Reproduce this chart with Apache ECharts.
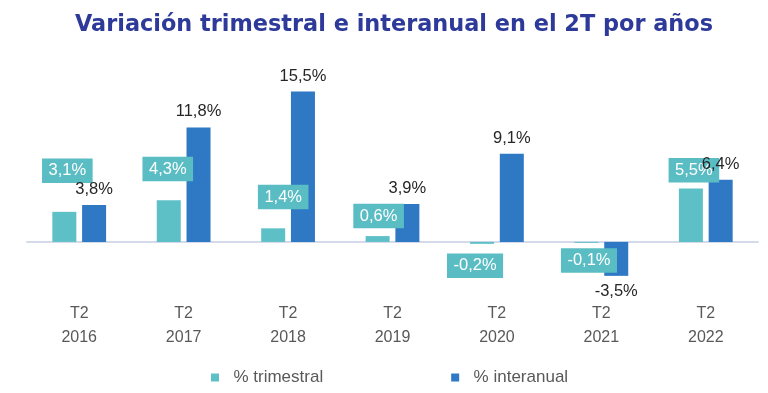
<!DOCTYPE html>
<html>
<head>
<meta charset="utf-8">
<script src="https://cdn.jsdelivr.net/npm/echarts@6/dist/echarts.min.js"></script>
<style>
html,body{margin:0;padding:0;background:#fff;}
#chart{width:768px;height:393px;}
</style>
</head>
<body>
<div id="chart"></div>
<script>
const titleText = 'Variación trimestral e interanual en el 2T por años';
const categories = ['T2\n2016', 'T2\n2017', 'T2\n2018', 'T2\n2019', 'T2\n2020', 'T2\n2021', 'T2\n2022'];
const seriesNames = ['% trimestral', '% interanual'];
const trimestral = [3.1, 4.3, 1.4, 0.6, -0.2, -0.1, 5.5];
const interanual = [3.8, 11.8, 15.5, 3.9, 9.1, -3.5, 6.4];
// label box offsets (style only), relative to the bar centre
const trimLabelOffsets = [[3, -56], [-1, -52], [10, -38], [1, -23], [-7, 23], [2.5, 18], [3, -45]];

const fmt = v => v.toFixed(1).replace('.', ',') + '%';
const TEAL = '#5EC0C7';
const BLUE = '#2F78C4';

const chart = echarts.init(document.getElementById('chart'), null, {renderer: 'canvas'});
chart.setOption({
  animation: false,
  backgroundColor: '#ffffff',
  title: {
    text: titleText,
    left: 389,
    textAlign: 'center',
    top: 9,
    textStyle: {fontFamily: 'DejaVu Sans', fontWeight: 'bold', fontSize: 22.4, color: '#2E3A9A'}
  },
  legend: {
    data: seriesNames,
    left: 211,
    top: 369,
    padding: 0,
    itemGap: 128,
    itemWidth: 8,
    itemHeight: 8,
    icon: 'rect',
    formatter: name => '  ' + name,
    textStyle: {fontFamily: 'Liberation Sans', fontSize: 17, color: '#595959'}
  },
  grid: {left: 27, right: 10, top: 77, height: 213.4, containLabel: false},
  xAxis: {
    type: 'category',
    data: categories,
    axisLine: {onZero: true, lineStyle: {color: '#D5DAEB', width: 2}},
    axisTick: {show: false},
    axisLabel: {
      margin: 11,
      fontFamily: 'Liberation Sans',
      fontSize: 16,
      lineHeight: 24,
      color: '#595959'
    }
  },
  yAxis: {
    type: 'value',
    min: -5,
    max: 17,
    show: false,
    splitLine: {show: false}
  },
  series: [
    {
      name: seriesNames[0],
      type: 'bar',
      barWidth: 24,
      barGap: '24%',
      itemStyle: {color: TEAL},
      data: trimestral.map((v, i) => ({
        value: v,
        label: {offset: trimLabelOffsets[i]}
      })),
      label: {
        show: true,
        position: 'inside',
        formatter: p => fmt(p.value),
        backgroundColor: '#5ABDC4',
        color: '#ffffff',
        fontFamily: 'Liberation Sans',
        fontSize: 16.5,
        lineHeight: 17,
        padding: [4, 6.5, 3.5, 6.5]
      }
    },
    {
      name: seriesNames[1],
      type: 'bar',
      barWidth: 24,
      barGap: '24%',
      itemStyle: {color: BLUE},
      data: interanual,
      label: {
        show: true,
        position: 'outside',
        distance: 7,
        formatter: p => fmt(p.value),
        color: '#262626',
        fontFamily: 'Liberation Sans',
        fontSize: 16.5
      }
    }
  ]
});
</script>
</body>
</html>
